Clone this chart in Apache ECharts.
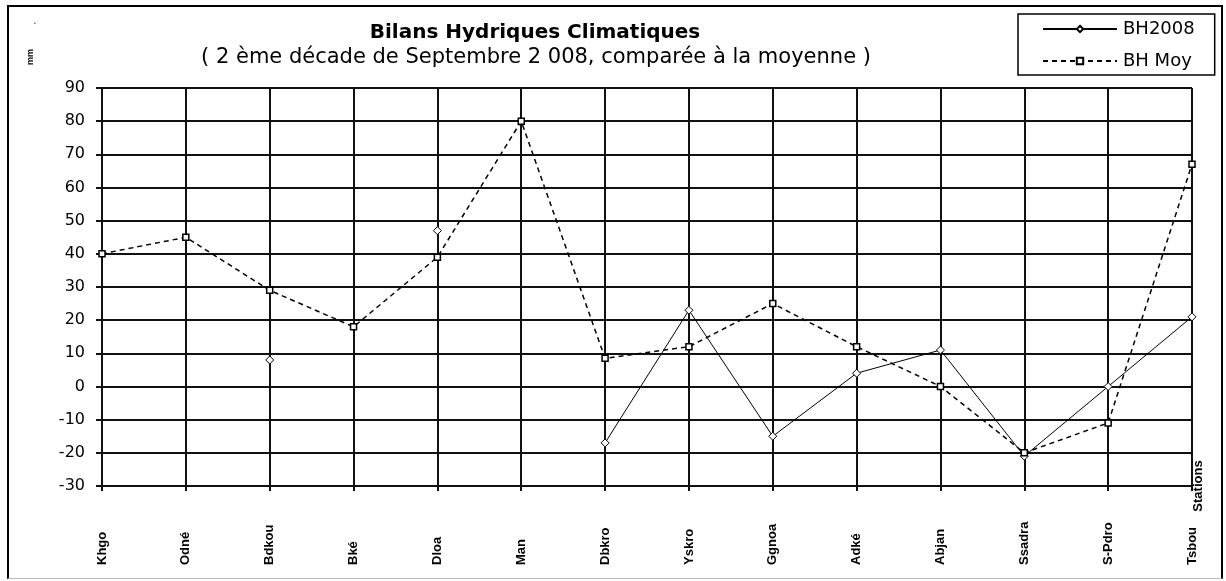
<!DOCTYPE html>
<html>
<head>
    <meta http-equiv="Content-type" content="text/html; charset=utf-8" />
    <title>Bilans Hydriques Climatiques</title>
    <script src="https://cdn.jsdelivr.net/npm/echarts@6/dist/echarts.min.js"></script>
    <style>
    body {
        margin: 0;
        background: #fff;
    }
    #main {
        position: absolute;
        left: 0;
        top: 0;
        width: 1226px;
        height: 581px;
    }
    .cadre {
        position: absolute;
        left: 7px;
        top: 5px;
        width: 1212px;
        height: 571px;
        border: 2px solid #000;
        border-bottom: 1px solid #bbb;
        pointer-events: none;
    }
    </style>
</head>
<body>
    <div id="main"></div>
    <div class="cadre"></div>
    <script type="text/javascript">
        // stations (axe des x)
        var stations = ['Khgo', 'Odné', 'Bdkou', 'Bké', 'Dloa', 'Man', 'Dbkro', 'Yskro', 'Ggnoa', 'Adké', 'Abjan', 'Ssadra', 'S-Pdro', 'Tsbou'];
        // bilan hydrique 2008 (null = pas de donnée)
        var bh2008 = [null, null, 8, null, 47, null, -17, 23, -15, 4, 11, -21, 0, 21];
        // bilan hydrique moyen
        var bhMoy = [40, 45, 29, 18, 39, 80, 8.5, 12, 25, 12, 0, -20, -11, 67];
        // graduations de l'axe des y
        var yMin = -30, yMax = 90, yStep = 10;

        var grille = {color: '#111', width: 2};

        var myChart = echarts.init(document.getElementById('main'));
        myChart.setOption({
            animation: false,
            backgroundColor: '#fff',
            graphic: [
                {
                    type: 'text', x: 535, y: 33,
                    style: {
                        text: 'Bilans Hydriques Climatiques',
                        font: 'bold 20px "DejaVu Sans"', fill: '#000',
                        align: 'center', verticalAlign: 'middle'
                    }
                },
                {
                    type: 'text', x: 536, y: 58,
                    style: {
                        text: '( 2 ème décade de Septembre 2 008, comparée à la moyenne )',
                        font: '21px "DejaVu Sans"', fill: '#000',
                        align: 'center', verticalAlign: 'middle'
                    }
                },
                {
                    type: 'text', x: 31, y: 57, rotation: Math.PI / 2,
                    style: {
                        text: 'mm', font: 'bold 9px "Liberation Sans"', fill: '#000',
                        align: 'center', verticalAlign: 'middle'
                    }
                },
                {
                    type: 'text', x: 35, y: 16,
                    style: {text: '.', font: '10px "Liberation Sans"', fill: '#000', align: 'center'}
                }
            ],
            legend: {
                left: 1018,
                top: 14,
                orient: 'vertical',
                borderColor: '#000',
                borderWidth: 1.5,
                padding: [6, 20, 5, 24],
                itemGap: 14,
                itemWidth: 74,
                itemHeight: 8,
                textStyle: {fontFamily: 'DejaVu Sans', fontSize: 18, color: '#000', padding: [0, 0, 0, 1]},
                data: ['BH2008', 'BH Moy']
            },
            grid: {
                left: 102,
                right: 34,
                top: 88,
                bottom: 95
            },
            xAxis: {
                type: 'category',
                data: stations,
                boundaryGap: false,
                name: 'Stations',
                nameLocation: 'end',
                nameRotate: 90,
                nameGap: 6,
                nameTextStyle: {
                    fontFamily: 'Liberation Sans', fontWeight: 'bold', fontSize: 13, color: '#000',
                    align: 'center', verticalAlign: 'middle'
                },
                axisLine: {onZero: false, lineStyle: grille},
                axisTick: {show: true, length: 5, alignWithLabel: true, lineStyle: grille},
                splitLine: {show: true, lineStyle: grille},
                axisLabel: {
                    rotate: 90,
                    margin: 79,
                    align: 'left',
                    interval: 0,
                    fontFamily: 'Liberation Sans',
                    fontWeight: 'bold',
                    fontSize: 13,
                    color: '#000'
                }
            },
            yAxis: {
                type: 'value',
                min: yMin,
                max: yMax,
                interval: yStep,
                axisLine: {show: true, lineStyle: grille},
                axisTick: {show: true, length: 6, lineStyle: grille},
                splitLine: {show: true, lineStyle: grille},
                axisLabel: {
                    margin: 17,
                    fontFamily: 'DejaVu Sans',
                    fontSize: 16,
                    color: '#000'
                }
            },
            series: [
                {
                    name: 'BH2008',
                    type: 'line',
                    data: bh2008,
                    symbol: 'diamond',
                    symbolSize: 8,
                    showAllSymbol: true,
                    lineStyle: {color: '#000', width: 1},
                    itemStyle: {color: '#fff', borderColor: '#000', borderWidth: 1}
                },
                {
                    name: 'BH Moy',
                    type: 'line',
                    data: bhMoy,
                    symbol: 'rect',
                    symbolSize: 6,
                    showAllSymbol: true,
                    lineStyle: {color: '#000', width: 1.5, type: [5, 4]},
                    itemStyle: {color: '#fff', borderColor: '#000', borderWidth: 1.5}
                }
            ]
        });
    </script>
</body>
</html>
